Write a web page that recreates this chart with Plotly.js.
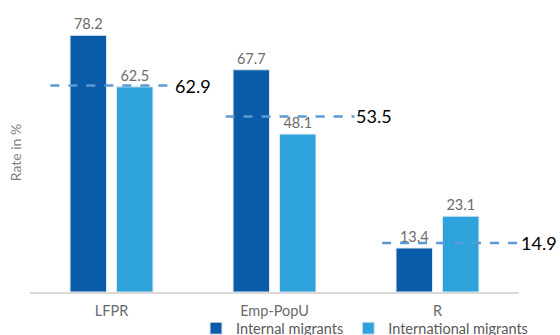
<!DOCTYPE html>
<html><head><meta charset="utf-8">
<script src="https://cdn.plot.ly/plotly-3.0.1.min.js"></script>
<style>body{margin:0;background:#fff}#c{width:560px;height:335px}</style>
</head><body><div id="c"></div>
<script>
const categories = ['LFPR', 'Emp-PopU', 'R'];
const internalMigrants = [78.2, 67.7, 13.4];
const internationalMigrants = [62.5, 48.1, 23.1];
const overallRates = [62.9, 53.5, 14.9];
const seriesNames = ['Internal migrants', 'International migrants'];

// dashed line horizontal extent relative to category index (style)
const lineOffsets = [[-0.375, 0.38], [-0.30, 0.49], [-0.34, 0.5]];

const FONT = 'Lato, sans-serif';
const txtFont = {family: FONT, size: 14.5, color: '#6b6b6b'};
const barLine = {color: '#dfe7ef', width: 1};

const traces = [
  {type: 'bar', name: seriesNames[0], x: categories, y: internalMigrants,
   marker: {color: '#0a5ba8', line: barLine},
   text: internalMigrants.map(v => v.toFixed(1)), textposition: 'outside', cliponaxis: false,
   textfont: txtFont, hoverinfo: 'none'},
  {type: 'bar', name: seriesNames[1], x: categories, y: internationalMigrants,
   marker: {color: '#2ea3db', line: barLine},
   text: internationalMigrants.map(v => v.toFixed(1)), textposition: 'outside', cliponaxis: false,
   textfont: txtFont, hoverinfo: 'none'}
];

const shapes = overallRates.map((v, i) => ({
  type: 'line', xref: 'x', yref: 'y',
  x0: i + lineOffsets[i][0], x1: i + lineOffsets[i][1], y0: v, y1: v,
  line: {color: '#5b9bd5', width: 2.5, dash: 'dash'}
}));
const annotations = overallRates.map((v, i) => ({
  xref: 'x', yref: 'y', x: i + lineOffsets[i][1], y: v, text: v.toFixed(1),
  showarrow: false, xanchor: 'left', yanchor: 'middle', xshift: 0,
  font: {family: FONT, size: 18, color: '#000'}
}));

const layout = {
  width: 560, height: 335,
  margin: {l: 30, r: 41, t: 13, b: 43},
  paper_bgcolor: '#fff', plot_bgcolor: '#fff',
  barmode: 'group', bargap: 0.43, bargroupgap: 0.215,
  showlegend: true,
  legend: {orientation: 'h', xref: 'container', yref: 'container',
           x: 0.35, xanchor: 'left', y: 0.068, yanchor: 'top',
           bgcolor: 'rgba(0,0,0,0)',
           font: {family: FONT, size: 14.5, color: '#595959'},
           itemwidth: 30, tracegroupgap: 0},
  xaxis: {type: 'category', range: [-0.5, 2.5], showline: true, linecolor: '#d9d9d9', linewidth: 1.5,
          ticks: 'outside', ticklen: 5, tickcolor: 'rgba(0,0,0,0)',
          tickfont: txtFont, showgrid: false, zeroline: false, automargin: false},
  yaxis: {range: [0, 85], showticklabels: false, ticks: '', showgrid: false, zeroline: false,
          showline: false, automargin: false,
          title: {text: 'Rate in %', font: {family: FONT, size: 14, color: '#7f7f7f'}, standoff: 4}},
  shapes: shapes, annotations: annotations
};
Plotly.newPlot('c', traces, layout, {displayModeBar: false, staticPlot: true});
</script></body></html>
